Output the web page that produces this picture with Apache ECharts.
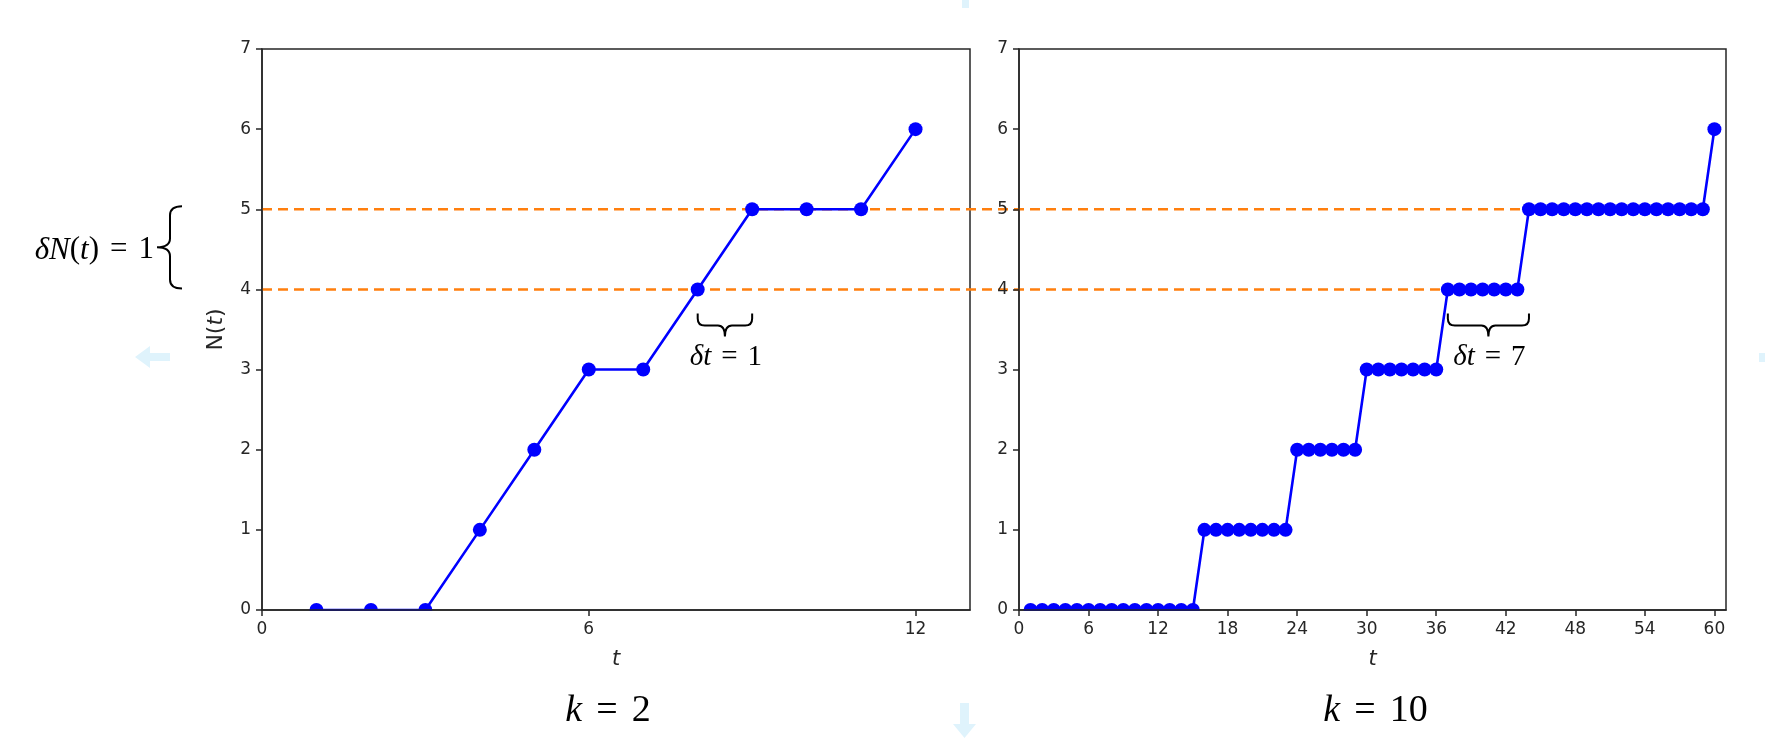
<!DOCTYPE html>
<html>
<head>
<meta charset="utf-8">
<script src="https://cdn.jsdelivr.net/npm/echarts@6/dist/echarts.min.js"></script>
<style>
html, body { margin: 0; padding: 0; background: #fff; }
#main { width: 1765px; height: 739px; }
</style>
</head>
<body>
<div id="main"></div>
<script>
// N(t) for k = 2
var tK2 = [1, 2, 3, 4, 5, 6, 7, 8, 9, 10, 11, 12];
var nK2 = [0, 0, 0, 1, 2, 3, 3, 4, 5, 5, 5, 6];

// N(t) for k = 10
var tK10 = [1, 2, 3, 4, 5, 6, 7, 8, 9, 10, 11, 12, 13, 14, 15, 16, 17, 18, 19, 20,
    21, 22, 23, 24, 25, 26, 27, 28, 29, 30, 31, 32, 33, 34, 35, 36, 37, 38, 39, 40,
    41, 42, 43, 44, 45, 46, 47, 48, 49, 50, 51, 52, 53, 54, 55, 56, 57, 58, 59, 60];
var nK10 = [0, 0, 0, 0, 0, 0, 0, 0, 0, 0, 0, 0, 0, 0, 0, 1, 1, 1, 1, 1,
    1, 1, 1, 2, 2, 2, 2, 2, 2, 3, 3, 3, 3, 3, 3, 3, 4, 4, 4, 4,
    4, 4, 4, 5, 5, 5, 5, 5, 5, 5, 5, 5, 5, 5, 5, 5, 5, 5, 5, 6];

// niveaux en pointillés
var levels = [4, 5];

// graduations
var xTicksK2 = [0, 6, 12];
var xTicksK10 = [0, 6, 12, 18, 24, 30, 36, 42, 48, 54, 60];
var yTicks = [0, 1, 2, 3, 4, 5, 6, 7];
var xMaxK2 = 13, xMaxK10 = 61, yMax = 7;
var panelTitles = ['2', '10'];

// mise en page (px)
var gridTop = 49, gridH = 561;
var gridL = {x: 262, w: 708};
var gridR = {x: 1019, w: 707};

var ink = '#262626';
var blue = '#0000ff';
var orange = '#ff7f0e';
var pale = '#dff3fc';

function zip(a, b) {
    return a.map(function (v, i) { return [v, b[i]]; });
}

// premier t où N(t) atteint le niveau
function firstReach(t, n, level) {
    for (var i = 0; i < n.length; i++) {
        if (n[i] >= level) return t[i];
    }
    return t[t.length - 1];
}

// texte façon LaTeX : variables en italique, "=" avec espaces épais
function serif(size) {
    var pad = Math.round(size * 0.36);
    return {
        i: {fontFamily: 'Liberation Serif', fontStyle: 'italic', fontSize: size, color: '#000'},
        r: {fontFamily: 'Liberation Serif', fontSize: size, color: '#000'},
        e: {fontFamily: 'Liberation Serif', fontSize: size, color: '#000', padding: [0, pad, 0, pad]}
    };
}

function xAxisFor(gridIndex, max, ticks) {
    return {
        gridIndex: gridIndex, type: 'value', min: 0, max: max, z: 5,
        axisLine: {show: true, onZero: false, lineStyle: {color: ink, width: 1.5}},
        axisTick: {show: true, length: 6, customValues: ticks, lineStyle: {color: ink, width: 1.5}},
        axisLabel: {customValues: ticks, margin: 11, fontFamily: 'DejaVu Sans', fontSize: 17, color: ink},
        splitLine: {show: false},
        name: '{i|t}', nameLocation: 'middle', nameGap: 39,
        nameTextStyle: {rich: {i: {fontFamily: 'DejaVu Sans', fontStyle: 'italic', fontSize: 21, color: ink}}}
    };
}

function yAxisFor(gridIndex, withName) {
    var ax = {
        gridIndex: gridIndex, type: 'value', min: 0, max: yMax, z: 5,
        axisLine: {show: true, onZero: false, lineStyle: {color: ink, width: 1.5}},
        axisTick: {show: true, length: 6, customValues: yTicks, lineStyle: {color: ink, width: 1.5}},
        axisLabel: {customValues: yTicks, margin: 11, fontFamily: 'DejaVu Sans', fontSize: 17, color: ink},
        splitLine: {show: false}
    };
    if (withName) {
        ax.name = '{r|N(}{i|t}{r|)}';
        ax.nameLocation = 'middle';
        ax.nameRotate = 90;
        ax.nameGap = 35;
        ax.nameTextStyle = {rich: {
            i: {fontFamily: 'DejaVu Sans', fontStyle: 'italic', fontSize: 22, color: ink},
            r: {fontFamily: 'DejaVu Sans', fontSize: 22, color: ink}
        }};
    }
    return ax;
}

function stepSeries(axisIndex, t, n) {
    return {
        type: 'line', xAxisIndex: axisIndex, yAxisIndex: axisIndex,
        data: zip(t, n), symbol: 'circle', symbolSize: 14, showAllSymbol: true,
        lineStyle: {color: blue, width: 2.6}, itemStyle: {color: blue},
        z: 3, silent: true
    };
}

// accolade horizontale sous le niveau : [x0, niveau, x1, dt]
function underBrace(params, api) {
    var a = api.coord([api.value(0), api.value(1)]);
    var b = api.coord([api.value(2), api.value(1)]);
    var x0 = a[0], x1 = b[0], xm = (x0 + x1) / 2;
    var yT = a[1] + 24, yL = yT + 12, yP = yL + 11, r = 7;
    var d = ['M', x0, yT, 'L', x0, yL - r, 'Q', x0, yL, x0 + r, yL,
        'L', xm - r, yL, 'Q', xm, yL, xm, yP,
        'M', xm, yP, 'Q', xm, yL, xm + r, yL,
        'L', x1 - r, yL, 'Q', x1, yL, x1, yL - r, 'L', x1, yT].join(' ');
    return {
        type: 'group',
        children: [
            {type: 'path', shape: {pathData: d}, style: {stroke: '#000', fill: 'none', lineWidth: 2}},
            {type: 'text', style: {
                x: xm + 1, y: yP + 21, text: '{i|δt}{e|=}{r|' + api.value(3) + '}',
                rich: serif(29), align: 'center', verticalAlign: 'middle'
            }}
        ]
    };
}

// accolade verticale à gauche de l'axe : [x, bas, haut]
function sideBrace(params, api) {
    var top = api.coord([api.value(0), api.value(2)]);
    var bot = api.coord([api.value(0), api.value(1)]);
    var xe = top[0] - 80, xs = top[0] - 92, xt = top[0] - 105;
    var yt = top[1] - 3, yb = bot[1] - 1, ym = (yt + yb) / 2, r = 9;
    var d = ['M', xe, yt, 'Q', xs, yt, xs, yt + r,
        'L', xs, ym - r, 'Q', xs, ym, xt, ym,
        'Q', xs, ym, xs, ym + r,
        'L', xs, yb - r, 'Q', xs, yb, xe, yb].join(' ');
    return {
        type: 'group',
        children: [
            {type: 'path', shape: {pathData: d}, style: {stroke: '#000', fill: 'none', lineWidth: 2}},
            {type: 'text', style: {
                x: xt - 3, y: ym + 3,
                text: '{i|δN}{r|(}{i|t}{r|)}{e|=}{r|' + (api.value(2) - api.value(1)) + '}',
                rich: serif(31), align: 'right', verticalAlign: 'middle'
            }}
        ]
    };
}

var k2Lo = firstReach(tK2, nK2, levels[0]), k2Hi = firstReach(tK2, nK2, levels[1]);
var k10Lo = firstReach(tK10, nK10, levels[0]), k10Hi = firstReach(tK10, nK10, levels[1]);

// repère invisible couvrant les deux panneaux, à l'échelle t du panneau de droite,
// pour que les pointillés partent de l'axe de gauche
var spanW = gridR.x + gridR.w - gridL.x;
var dashStart = -(gridR.x - gridL.x) * xMaxK10 / gridR.w;

var series = [
    stepSeries(0, tK2, nK2),
    stepSeries(1, tK10, nK10)
];
levels.forEach(function (lv) {
    series.push({
        type: 'line', xAxisIndex: 2, yAxisIndex: 2,
        data: [[dashStart, lv], [firstReach(tK10, nK10, lv), lv]],
        symbol: 'none', silent: true, z: 2,
        lineStyle: {color: orange, width: 2.5, type: [10, 6]}
    });
});
series.push({
    type: 'custom', xAxisIndex: 0, yAxisIndex: 0, clip: false, silent: true, z: 4,
    data: [[k2Lo, levels[0], k2Hi, k2Hi - k2Lo]], renderItem: underBrace
});
series.push({
    type: 'custom', xAxisIndex: 1, yAxisIndex: 1, clip: false, silent: true, z: 4,
    data: [[k10Lo, levels[0], k10Hi, k10Hi - k10Lo]], renderItem: underBrace
});
series.push({
    type: 'custom', xAxisIndex: 0, yAxisIndex: 0, clip: false, silent: true, z: 4,
    data: [[0, levels[0], levels[1]]], renderItem: sideBrace
});

var bottom = gridTop + gridH;
var graphic = [
    // cache le bas des marqueurs sous l'axe (comme le clip de matplotlib)
    {type: 'rect', z: 4, silent: true, shape: {x: gridL.x + 1, y: bottom + 1, width: gridL.w - 2, height: 9}, style: {fill: '#fff'}},
    {type: 'rect', z: 4, silent: true, shape: {x: gridR.x + 1, y: bottom + 1, width: gridR.w - 2, height: 9}, style: {fill: '#fff'}},
    {type: 'text', z: 6, style: {x: gridL.x + gridL.w / 2 - 8, y: 711, text: '{i|k}{e|=}{r|' + panelTitles[0] + '}', rich: serif(38), align: 'center', verticalAlign: 'middle'}},
    {type: 'text', z: 6, style: {x: gridR.x + gridR.w / 2 + 3, y: 711, text: '{i|k}{e|=}{r|' + panelTitles[1] + '}', rich: serif(38), align: 'center', verticalAlign: 'middle'}},
    // flèches pâles du cadre
    {type: 'rect', silent: true, shape: {x: 962, y: 0, width: 7, height: 8}, style: {fill: pale}},
    {type: 'rect', silent: true, shape: {x: 1759, y: 353, width: 6, height: 9}, style: {fill: pale}},
    {type: 'rect', silent: true, shape: {x: 149, y: 353, width: 21, height: 8}, style: {fill: pale}},
    {type: 'polygon', silent: true, shape: {points: [[135, 357], [150, 346], [150, 368]]}, style: {fill: pale}},
    {type: 'rect', silent: true, shape: {x: 960, y: 703, width: 9, height: 22}, style: {fill: pale}},
    {type: 'polygon', silent: true, shape: {points: [[953, 724], [976, 724], [964.5, 738]]}, style: {fill: pale}}
];

var chart = echarts.init(document.getElementById('main'));
chart.setOption({
    animation: false,
    backgroundColor: '#fff',
    grid: [
        {left: gridL.x, top: gridTop, width: gridL.w, height: gridH, show: true, borderColor: ink, borderWidth: 1.5},
        {left: gridR.x, top: gridTop, width: gridR.w, height: gridH, show: true, borderColor: ink, borderWidth: 1.5},
        {left: gridL.x, top: gridTop, width: spanW, height: gridH, show: false}
    ],
    xAxis: [
        xAxisFor(0, xMaxK2, xTicksK2),
        xAxisFor(1, xMaxK10, xTicksK10),
        {gridIndex: 2, type: 'value', min: dashStart, max: xMaxK10, show: false}
    ],
    yAxis: [
        yAxisFor(0, true),
        yAxisFor(1, false),
        {gridIndex: 2, type: 'value', min: 0, max: yMax, show: false}
    ],
    series: series,
    graphic: graphic
});
</script>
</body>
</html>
